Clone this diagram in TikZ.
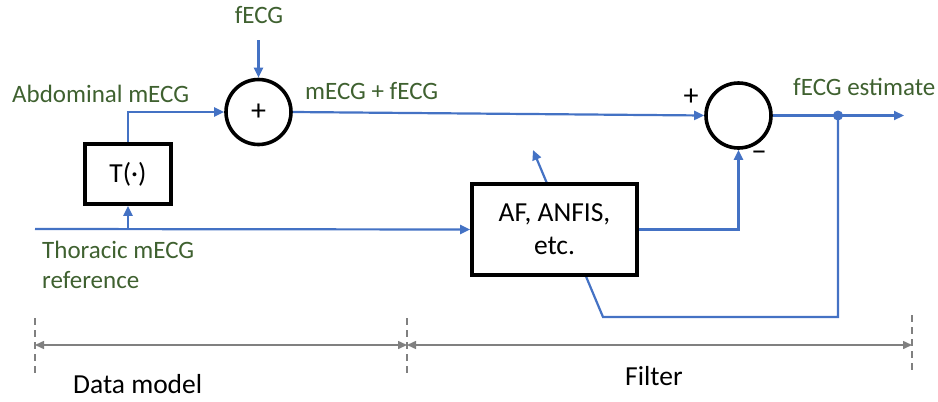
\documentclass[tikz,border=0pt]{standalone}
\usepackage{fontspec}
\setmainfont{Carlito}
\usetikzlibrary{arrows.meta}
\definecolor{sigblue}{HTML}{4472C4}
\definecolor{lblgreen}{HTML}{3F6130}
\definecolor{dimgray}{HTML}{808080}
\begin{document}
\begin{tikzpicture}[x=1pt,y=-1pt,
  sig/.style={draw=sigblue,line width=2.2pt},
  sigarrow/.style={sig,-{Triangle[length=10pt,width=9pt]}},
  blk/.style={draw=black,line width=3.6pt,fill=white,rectangle,inner sep=0pt},
  sumnode/.style={draw=black,line width=3.6pt,fill=white,circle,minimum size=65pt,inner sep=0pt},
  lbl/.style={text=lblgreen,font=\fontsize{25}{30}\selectfont,inner sep=0pt},
  blktext/.style={font=\fontsize{27.5}{33}\selectfont},
  dimline/.style={draw=dimgray,line width=1.5pt},
  dimarrow/.style={dimline,{Triangle[length=9pt,width=8pt]}-{Triangle[length=9pt,width=8pt]}},
  dimtick/.style={draw=dimgray,line width=1.5pt,dash pattern=on 7pt off 5pt}
]
\useasboundingbox (0,0) rectangle (938,402);

% coordinates
\coordinate (fin) at (258.5,40);
\coordinate (thin) at (35,229);
\coordinate (tbr) at (128,229);
\coordinate (dot) at (838,115.5);
\coordinate (outend) at (904,115.5);
\coordinate (fbA) at (603,317);
\coordinate (adapt) at (533,150);

% feedback / adaptation line (behind AF box)
\draw[sigarrow] (dot) |- (fbA) -- (adapt);

% blocks
\node[sumnode,font=\fontsize{30}{34}\selectfont] (sum1) at (258.5,112) {+};
\node[sumnode] (sum2) at (738.5,115.5) {};
\node[blk,minimum width=86pt,minimum height=60pt,blktext] (tbox) at (128,174) {T(·)};
\node[blk,minimum width=165pt,minimum height=91pt,align=center,blktext] (af) at (554.5,229.5) {AF, ANFIS,\\etc.};

% signal connectors
\draw[sigarrow] (fin) -- (sum1.north);
\draw[sigarrow] (thin) -- (af.west);
\draw[sigarrow] (tbr) -- (tbox.south);
\draw[sigarrow] (tbox.north) |- (sum1.west);
\draw[sigarrow] (sum1.east) -- (sum2.west);
\draw[sigarrow] (af.east) -| (sum2.south);
\draw[sig] (sum2.east) -- (dot);
\draw[sigarrow] (dot) -- (outend);
\fill[sigblue] (dot) circle (5pt);

% labels
\node[lbl,anchor=base] (lfecg) at (259,23) {fECG};
\node[lbl,anchor=base west] (labd) at (12,102) {Abdominal mECG};
\node[lbl,anchor=base west] (lsum) at (305,99) {mECG + fECG};
\node[lbl,anchor=base west] (lest) at (793,95) {fECG estimate};
\node[lbl,anchor=base west] (lth1) at (42,258) {Thoracic mECG};
\node[lbl,anchor=base west] (lth2) at (42,288) {reference};
\node[font=\fontsize{30}{34}\selectfont,inner sep=0pt] (plus) at (691,97) {+};
\node[font=\fontsize{30}{34}\selectfont,inner sep=0pt] (minus) at (759,156) {\textminus};

% dimension lines
\coordinate (d1t) at (35,318);
\coordinate (d1b) at (35,374);
\coordinate (d2t) at (407,318);
\coordinate (d2b) at (407,376);
\coordinate (d3t) at (912,315);
\coordinate (d3b) at (912,374);
\coordinate (a1) at (35,345);
\coordinate (a2) at (407,345);
\coordinate (a3) at (912,345);
\draw[dimtick] (d1t) -- (d1b);
\draw[dimtick] (d2t) -- (d2b);
\draw[dimtick] (d3t) -- (d3b);
\draw[dimarrow] (a1) -- (a2);
\draw[dimarrow] (a2) -- (a3);
\node[font=\fontsize{27.5}{33}\selectfont,anchor=base west,inner sep=0pt] (ldm) at (73,393) {Data model};
\node[font=\fontsize{27.5}{33}\selectfont,anchor=base west,inner sep=0pt] (lfi) at (625,385) {Filter};
\end{tikzpicture}
\end{document}
